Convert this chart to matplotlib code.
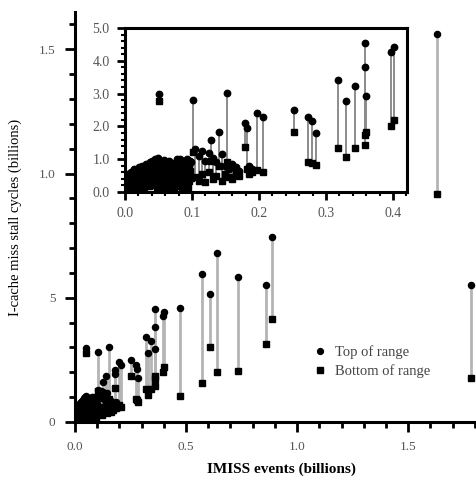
import matplotlib
matplotlib.use("Agg")
import matplotlib.pyplot as plt
from matplotlib.lines import Line2D
import numpy as np

plt.rcParams['font.family'] = ['Liberation Serif', 'DejaVu Serif']

# ---- data: (IMISS events [billions], top of range, bottom of range) ----
x_events = [
    0.003, 0.005, 0.007, 0.009, 0.011, 0.013, 0.015, 0.017, 0.019, 0.021,
    0.023, 0.025, 0.027, 0.029, 0.031, 0.033, 0.035, 0.037, 0.039, 0.041,
    0.043, 0.045, 0.047, 0.049, 0.052, 0.054, 0.056, 0.058, 0.060, 0.062,
    0.064, 0.066, 0.068, 0.070, 0.072, 0.074, 0.076, 0.078, 0.080, 0.082,
    0.084, 0.086, 0.088, 0.090, 0.093, 0.096, 0.098,
    0.004, 0.008, 0.012, 0.016, 0.020, 0.024, 0.028, 0.032, 0.036, 0.040,
    0.044, 0.048, 0.053, 0.057, 0.061, 0.065, 0.069, 0.073, 0.077, 0.081,
    0.085, 0.089, 0.094, 0.097,
    0.105, 0.110, 0.115, 0.120, 0.125, 0.132, 0.136, 0.145, 0.150, 0.155,
    0.160, 0.165, 0.170, 0.185, 0.190,
    0.051, 0.102, 0.128, 0.140, 0.152, 0.179, 0.182, 0.197, 0.206,
    0.252, 0.273, 0.279, 0.285, 0.318, 0.330, 0.344, 0.358, 0.359, 0.360,
    0.397, 0.402, 0.473, 0.573, 0.608, 0.641, 0.736, 0.860, 0.889, 1.630, 1.784,
]
top_range = [
    0.35, 0.55, 0.25, 0.60, 0.45, 0.70, 0.50, 0.65, 0.40, 0.75,
    0.55, 0.80, 0.62, 0.70, 0.85, 0.58, 0.78, 0.90, 0.66, 0.95,
    0.72, 1.00, 0.82, 1.05, 0.76, 0.92, 0.68, 0.98, 0.80, 0.88,
    0.72, 0.95, 0.62, 0.85, 0.78, 0.70, 0.92, 1.00, 0.75, 1.02,
    0.88, 0.70, 0.95, 0.82, 1.00, 0.78, 0.90,
    0.50, 0.42, 0.62, 0.55, 0.68, 0.60, 0.75, 0.70, 0.62, 0.80,
    0.88, 0.70, 0.90, 0.82, 0.65, 0.78, 0.88, 0.60, 0.72, 0.92,
    0.62, 0.80, 0.70, 0.95,
    1.30, 1.10, 1.25, 0.95, 1.20, 1.05, 0.90, 1.15, 0.80, 0.70,
    0.85, 0.75, 0.65, 0.80, 0.70,
    2.98, 2.80, 1.59, 1.84, 3.01, 2.09, 1.94, 2.40, 2.30,
    2.50, 2.30, 2.15, 1.79, 3.41, 2.77, 3.24, 4.53, 3.82, 2.93,
    4.28, 4.43, 4.58, 5.95, 5.15, 6.80, 5.82, 5.52, 7.45, 15.6, 5.52,
]
bottom_range = [
    0.08, 0.15, 0.05, 0.20, 0.10, 0.25, 0.12, 0.30, 0.10, 0.28,
    0.18, 0.35, 0.20, 0.15, 0.40, 0.22, 0.30, 0.45, 0.25, 0.38,
    0.20, 0.50, 0.30, 0.55, 0.28, 0.42, 0.22, 0.48, 0.35, 0.30,
    0.40, 0.45, 0.25, 0.38, 0.30, 0.20, 0.42, 0.50, 0.32, 0.45,
    0.36, 0.28, 0.40, 0.30, 0.55, 0.35, 0.42,
    0.22, 0.12, 0.35, 0.18, 0.40, 0.15, 0.45, 0.30, 0.18, 0.55,
    0.40, 0.12, 0.60, 0.15, 0.12, 0.60, 0.15, 0.10, 0.55, 0.18,
    0.12, 0.58, 0.15, 0.65,
    0.45, 0.35, 0.55, 0.30, 0.60, 0.40, 0.50, 0.35, 0.55, 0.45,
    0.40, 0.60, 0.50, 0.55, 0.60,
    2.78, 1.23, 0.95, 0.80, 0.92, 1.38, 0.70, 0.67, 0.62,
    1.84, 0.92, 0.88, 0.82, 1.33, 1.08, 1.33, 1.43, 1.74, 1.84,
    2.01, 2.20, 1.06, 1.58, 3.00, 2.00, 2.06, 3.14, 4.15, 9.18, 1.76,
]

main_xticks = [0.0, 0.5, 1.0, 1.5]
main_xticklabels = ['0.0', '0.5', '1.0', '1.5']
main_yticks = [0, 5, 10, 15]
main_yticklabels = ['0', '5', '1.0', '1.5']
inset_xticks = [0.0, 0.1, 0.2, 0.3, 0.4]
inset_xticklabels = ['0.0', '0.1', '0.2', '0.3', '0.4']
inset_yticks = [0.0, 1.0, 2.0, 3.0, 4.0, 5.0]
inset_yticklabels = ['0.0', '1.0', '2.0', '3.0', '4.0', '5.0']

W, H = 477, 483
fig = plt.figure(figsize=(W / 100, H / 100), dpi=100)

# ---------------- main axes ----------------
ax = fig.add_axes([75 / W, 1 - 422 / H, (477 - 75) / W, (422 - 12) / H])
ax.vlines(x_events, bottom_range, top_range, colors='#b4b4b4', linewidth=2.0, zorder=1)
ax.plot(x_events, top_range, 'o', color='black', ms=4.4, zorder=3, linestyle='none')
ax.plot(x_events, bottom_range, 's', color='black', ms=4.0, zorder=3, linestyle='none')
ax.set_xlim(0, 1.81)
ax.set_ylim(0, 16.5)
for s in ['top', 'right']:
    ax.spines[s].set_visible(False)
for s in ['left', 'bottom']:
    ax.spines[s].set_linewidth(2.2)
ax.set_xticks(main_xticks)
ax.set_xticklabels(main_xticklabels)
ax.set_yticks(main_yticks)
ax.set_yticklabels(main_yticklabels)
ax.set_xticks(np.arange(0, 1.81, 0.1), minor=True)
ax.set_yticks(np.arange(0, 16.5, 1), minor=True)
ax.tick_params(which='major', length=7, width=2, labelsize=9.5, labelcolor='#555555', pad=7)
ax.tick_params(which='minor', length=4, width=2)

fig.text(281 / W, 1 - 469 / H, 'IMISS events (billions)', fontsize=11,
         fontweight='bold', ha='center', va='center')
fig.text(15 / W, 1 - 217 / H, 'I-cache miss stall cycles (billions)', fontsize=10.5,
         rotation=90, ha='center', va='center')

leg_handles = [
    Line2D([], [], marker='o', color='black', linestyle='none', ms=4.2),
    Line2D([], [], marker='s', color='black', linestyle='none', ms=3.8),
]
fig.legend(leg_handles, ['Top of range', 'Bottom of range'],
           loc='upper left', bbox_to_anchor=(301 / W, 1 - 332 / H),
           frameon=False, handlelength=0.8, handletextpad=0.6,
           labelspacing=0.35, fontsize=10.5, labelcolor='#444444')

# ---------------- inset axes ----------------
axi = fig.add_axes([125 / W, 1 - 192 / H, (407 - 125) / W, (192 - 28) / H])
axi.vlines(x_events, bottom_range, top_range, colors='#8c8c8c', linewidth=1.4, zorder=1)
axi.plot(x_events, top_range, 'o', color='black', ms=4.6, zorder=3, linestyle='none')
axi.plot(x_events, bottom_range, 's', color='black', ms=4.0, zorder=3, linestyle='none')
axi.set_xlim(0, 0.421)
axi.set_ylim(0, 5.0)
for s in axi.spines.values():
    s.set_linewidth(2.2)
axi.set_xticks(inset_xticks)
axi.set_xticklabels(inset_xticklabels)
axi.set_yticks(inset_yticks)
axi.set_yticklabels(inset_yticklabels)
axi.set_xticks(np.arange(0, 0.421, 0.02), minor=True)
axi.set_yticks(np.arange(0, 5.01, 0.2), minor=True)
axi.tick_params(which='major', length=6, width=2, labelsize=10, labelcolor='#555555', pad=5)
axi.tick_params(which='minor', length=3, width=1.5)

fig.savefig('out.png', dpi=100)
